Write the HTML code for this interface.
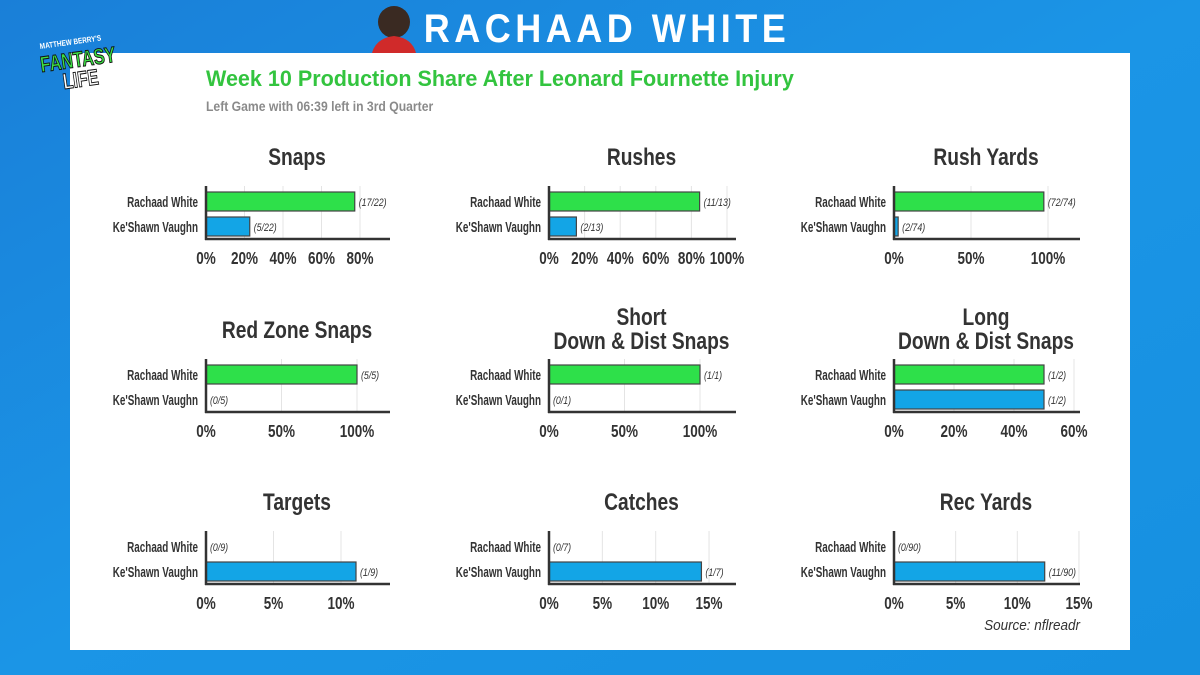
<!DOCTYPE html>
<html><head><meta charset="utf-8"><style>
html,body{margin:0;padding:0;width:1200px;height:675px;overflow:hidden}
svg text{font-family:"Liberation Sans",sans-serif}
</style></head><body>
<svg id="s" width="1200" height="675" xmlns="http://www.w3.org/2000/svg">
<defs>
<linearGradient id="bg" x1="0" y1="0" x2="1" y2="1">
<stop offset="0" stop-color="#1a7fd8"/><stop offset="0.5" stop-color="#1b95e6"/><stop offset="1" stop-color="#1690e0"/>
</linearGradient>
</defs>
<rect width="1200" height="675" fill="url(#bg)"/>
<rect x="70" y="53" width="1060" height="597" fill="#fff"/>
<circle cx="394" cy="22" r="16" fill="#3a2a22"/>
<path d="M372 53 Q376 38 394 36 Q412 38 416 53 Z" fill="#d02a2a"/>
<text transform="translate(607 42) scale(0.9 1)" font-size="40" font-weight="bold" fill="#fff" text-anchor="middle" letter-spacing="5">RACHAAD WHITE</text>
<g transform="rotate(-8 70 60)">
<text transform="translate(42 45) scale(0.8 1)" font-size="8" font-weight="bold" fill="#fff">MATTHEW BERRY'S</text>
<text transform="translate(40 68) scale(0.75 1)" font-size="22" font-weight="bold" fill="#3de045" stroke="#111" stroke-width="1">FANTASY</text>
<text transform="translate(60 88) scale(0.75 1)" font-size="22" font-weight="bold" fill="#fff" stroke="#111" stroke-width="1">LIFE</text>
</g>
<text transform="translate(206 86) scale(0.98 1)" font-size="22" font-weight="bold" fill="#33c43f">Week 10 Production Share After Leonard Fournette Injury</text>
<text transform="translate(206 111) scale(0.87 1)" font-size="14" font-weight="bold" fill="#8a8a8a">Left Game with 06:39 left in 3rd Quarter</text>
<text transform="translate(1080 630) scale(0.9 1)" font-size="15" font-style="italic" fill="#333" text-anchor="end">Source: nflreadr</text>
<g id="charts"></g>
</svg>
<script>
function T(x,y,sz,anc,sx,s,extra){return '<text transform="translate('+x+' '+y+') scale('+sx+' 1)" font-size="'+sz+'" text-anchor="'+anc+'" '+(extra||'')+'>'+s+'</text>';}
var C=[
{t:["Snaps"],x0:206,ax:390,ppp:1.925,ticks:[0,20,40,60,80],row:0,v:[[17/22,"(17/22)"],[5/22,"(5/22)"]]},
{t:["Rushes"],x0:549,ax:736,ppp:1.78,ticks:[0,20,40,60,80,100],row:0,v:[[11/13,"(11/13)"],[2/13,"(2/13)"]]},
{t:["Rush Yards"],x0:894,ax:1080,ppp:1.54,ticks:[0,50,100],row:0,v:[[72/74,"(72/74)"],[2/74,"(2/74)"]]},
{t:["Red Zone Snaps"],x0:206,ax:390,ppp:1.51,ticks:[0,50,100],row:1,v:[[1,"(5/5)"],[0,"(0/5)"]]},
{t:["Short","Down & Dist Snaps"],x0:549,ax:736,ppp:1.51,ticks:[0,50,100],row:1,v:[[1,"(1/1)"],[0,"(0/1)"]]},
{t:["Long","Down & Dist Snaps"],x0:894,ax:1080,ppp:3.0,ticks:[0,20,40,60],row:1,v:[[.5,"(1/2)"],[.5,"(1/2)"]]},
{t:["Targets"],x0:206,ax:390,ppp:13.5,ticks:[0,5,10],row:2,v:[[0,"(0/9)"],[1/9,"(1/9)"]]},
{t:["Catches"],x0:549,ax:736,ppp:10.67,ticks:[0,5,10,15],row:2,v:[[0,"(0/7)"],[1/7,"(1/7)"]]},
{t:["Rec Yards"],x0:894,ax:1080,ppp:12.33,ticks:[0,5,10,15],row:2,v:[[0,"(0/90)"],[11/90,"(11/90)"]]}
];
var rows=[0,173,345],h="",B='font-weight="bold" fill="#333"';
C.forEach(function(c){
var dy=rows[c.row],x0=c.x0,cx=(x0+c.ax)/2-1;
if(c.t.length==1)h+=T(cx,165+dy,24,"middle",0.8,c.t[0],B);
else{h+=T(cx,dy+152,24,"middle",0.8,c.t[0],B);h+=T(cx,dy+176,24,"middle",0.8,c.t[1].replace("&","&amp;"),B);}
c.ticks.forEach(function(t){var x=x0+t*c.ppp;
h+='<line x1="'+x+'" y1="'+(186+dy)+'" x2="'+x+'" y2="'+(238+dy)+'" stroke="#e4e4e4" stroke-width="1"/>';
h+=T(x,264+dy,18,"middle",0.75,t+'%',B);});
var names=["Rachaad White","Ke'Shawn Vaughn"],cols=["#2ee04a","#13a5e6"];
c.v.forEach(function(v,i){var y=192+dy+i*25,w=v[0]*100*c.ppp;
h+=T(x0-8,y+15,15,"end",0.66,names[i],B);
if(w>0)h+='<rect x="'+x0+'" y="'+y+'" width="'+w+'" height="19" fill="'+cols[i]+'" stroke="#444" stroke-width="1.2"/>';
h+=T(x0+w+4,y+14,11,"start",0.8,v[1],'font-style="italic" fill="#333"');});
h+='<line x1="'+x0+'" y1="'+(186+dy)+'" x2="'+x0+'" y2="'+(240+dy)+'" stroke="#333" stroke-width="2.5"/>';
h+='<line x1="'+(x0-1)+'" y1="'+(239+dy)+'" x2="'+c.ax+'" y2="'+(239+dy)+'" stroke="#333" stroke-width="2.5"/>';
});
document.getElementById("charts").innerHTML=h;
</script>
</body></html>
